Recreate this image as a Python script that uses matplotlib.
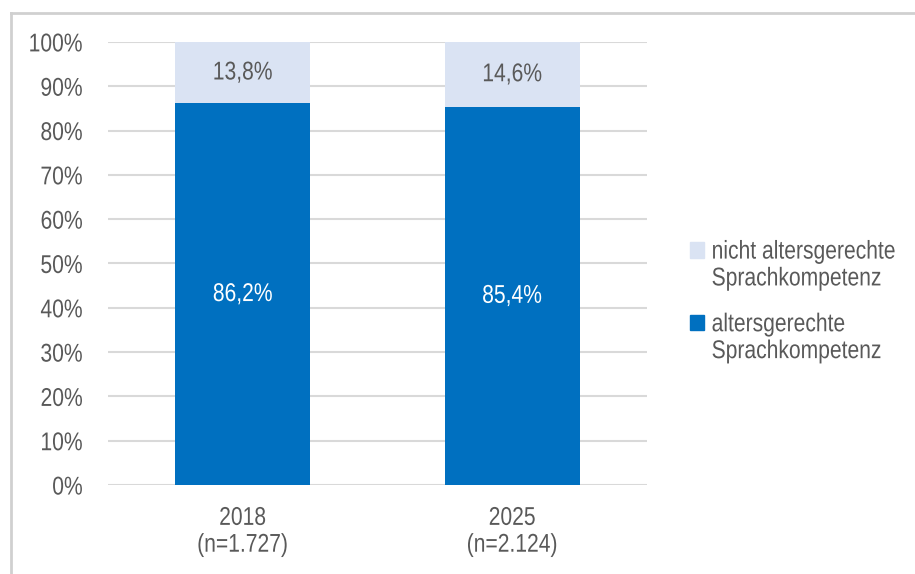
import matplotlib.pyplot as plt
from matplotlib.patches import Patch, Rectangle
from matplotlib.lines import Line2D
from matplotlib.patheffects import AbstractPathEffect
from matplotlib.transforms import Affine2D
from matplotlib.legend_handler import HandlerPatch

plt.rcParams['font.family'] = ['Liberation Sans', 'DejaVu Sans']

# Data
years = ['2018\n(n=1.727)', '2025\n(n=2.124)']
age_appropriate = [86.2, 85.4]        # altersgerechte Sprachkompetenz
not_age_appropriate = [13.8, 14.6]    # nicht altersgerechte Sprachkompetenz
ticks = [0, 10, 20, 30, 40, 50, 60, 70, 80, 90, 100]

dark_blue = '#0070C0'
light_blue = '#DAE3F3'
text_grey = '#595959'
grid_grey = '#D9D9D9'
fs = 18.5


class Narrow(AbstractPathEffect):
    """Squeeze glyphs horizontally to get a narrow typeface look."""

    def __init__(self, sx=0.82, anchor='center'):
        super().__init__()
        self.sx = sx
        self.anchor = anchor

    def draw_path(self, renderer, gc, tpath, affine, rgbFace=None):
        ext = tpath.get_extents()
        cx = {'left': 0.0, 'right': ext.x1, 'center': (ext.x0 + ext.x1) / 2}[self.anchor]
        t = Affine2D().translate(-cx, 0).scale(self.sx, 1).translate(cx, 0) + affine
        renderer.draw_path(gc, tpath, t, rgbFace)


def raised_square(legend, orig_handle, xdescent, ydescent, width, height, fontsize):
    # square sits on the first line of a two-line label
    return Rectangle((-xdescent, -ydescent + 0.6 * fontsize), width, height)


fig = plt.figure(figsize=(9.15, 5.74), dpi=100)
ax = fig.add_axes([0.118, 0.155, 0.589, 0.772])

x = range(len(years))
ax.bar(x, age_appropriate, width=0.5, color=dark_blue, zorder=3)
ax.bar(x, not_age_appropriate, width=0.5, bottom=age_appropriate,
       color=light_blue, zorder=3)

for i in x:
    ax.text(i, age_appropriate[i] / 2, f'{age_appropriate[i]:.1f}%'.replace('.', ','),
            ha='center', va='center', color='white', fontsize=fs, zorder=4,
            path_effects=[Narrow()])
    ax.text(i, age_appropriate[i] + not_age_appropriate[i] / 2,
            f'{not_age_appropriate[i]:.1f}%'.replace('.', ','),
            ha='center', va='center', color=text_grey, fontsize=fs, zorder=4,
            path_effects=[Narrow()])

ax.set_xlim(-0.5, 1.5)
ax.set_ylim(0, 100)
ax.set_yticks(ticks)
ax.set_yticklabels([f'{t}%' for t in ticks])
ax.set_xticks(list(x))
ax.set_xticklabels(years, linespacing=1.15)
ax.tick_params(axis='both', length=0, labelsize=fs, labelcolor=text_grey)
ax.tick_params(axis='y', pad=18)
ax.tick_params(axis='x', pad=15)
for t in ax.get_yticklabels():
    t.set_path_effects([Narrow(anchor='right')])
for t in ax.get_xticklabels():
    t.set_path_effects([Narrow()])
ax.yaxis.grid(True, color=grid_grey, linewidth=1.5, zorder=0)
for s in ax.spines.values():
    s.set_visible(False)

handles = [Patch(color=light_blue), Patch(color=dark_blue)]
labels = ['nicht altersgerechte\nSprachkompetenz', 'altersgerechte\nSprachkompetenz']
leg = fig.legend(handles, labels, loc='center left', bbox_to_anchor=(0.7286, 0.475),
                 frameon=False, fontsize=fs, handlelength=0.55, handleheight=0.55,
                 handletextpad=0.3, labelspacing=0.85, labelcolor=text_grey,
                 handler_map={Patch: HandlerPatch(patch_func=raised_square)})
for t in leg.get_texts():
    t.set_linespacing(1.15)
    t.set_path_effects([Narrow(anchor='left')])

# outer chart frame
fig.add_artist(Line2D([11 / 915, 1], [1 - 13 / 574, 1 - 13 / 574],
                      transform=fig.transFigure, color='#D0D0D0', linewidth=2))
fig.add_artist(Line2D([11 / 915, 11 / 915], [0, 1 - 13 / 574],
                      transform=fig.transFigure, color='#D0D0D0', linewidth=2))

fig.savefig('out.png', dpi=100)
